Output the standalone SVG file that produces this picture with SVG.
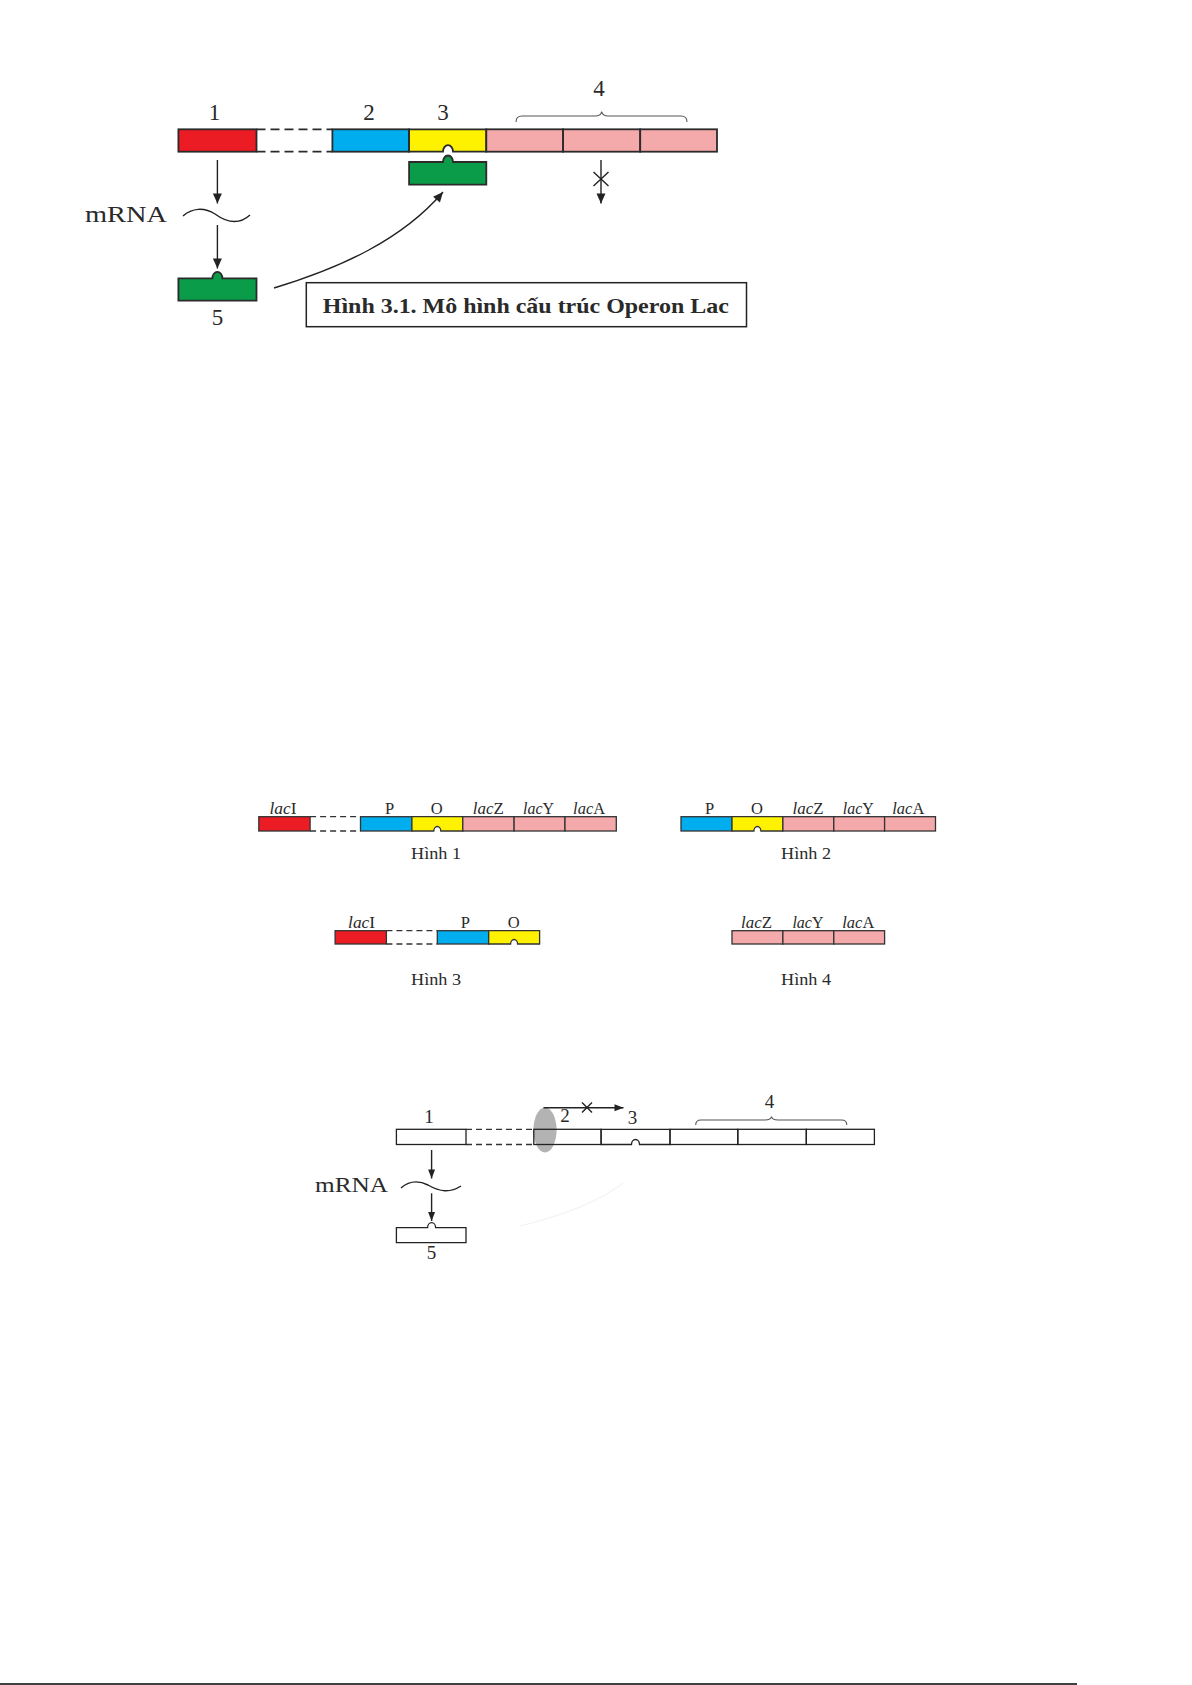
<svg xmlns="http://www.w3.org/2000/svg" width="1192" height="1685" viewBox="0 0 1192 1685">
<defs>
<marker id="ah" markerUnits="userSpaceOnUse" markerWidth="12" markerHeight="12" viewBox="0 0 12 12" refX="11" refY="6" orient="auto">
<path d="M1,1.5 L11,6 L1,10.5 Z" fill="#222"/>
</marker>
<marker id="ahs" markerUnits="userSpaceOnUse" markerWidth="10" markerHeight="10" viewBox="0 0 10 10" refX="9.5" refY="5" orient="auto">
<path d="M0.5,1.5 L9.5,5 L0.5,8.5 Z" fill="#222"/>
</marker>
</defs>
<style>
.g{stroke:#2b2b2b;stroke-width:1.8}
.gs{stroke:#333;stroke-width:1.3}
.gb{stroke:#222;stroke-width:1.3;fill:none}
.red{fill:#ec1c24}
.blue{fill:#00aeef}
.yel{fill:#fff200}
.pink{fill:#f4a9ab}
.green{fill:#0a9c48}
.dash{stroke:#2b2b2b;stroke-width:1.8;stroke-dasharray:9 5;fill:none}
.dashs{stroke:#333;stroke-width:1.3;stroke-dasharray:6 4;fill:none}
.ln{stroke:#222;stroke-width:1.4;fill:none}
.brace{stroke:#555;stroke-width:1.1;fill:none}
.t{font-family:"Liberation Serif","Times New Roman",serif;fill:#2a2a2a}
.num{font-size:23px;text-anchor:middle}
.lab{font-size:16.5px;text-anchor:middle}
.it{font-style:italic}
.cap{font-size:17px;text-anchor:middle}
</style>
<rect width="1192" height="1685" fill="#fff"/>

<!-- ============ Top diagram ============ -->
<g id="top-connectors">
<line class="dash" x1="256.5" y1="129.3" x2="332.4" y2="129.3"/>
<line class="dash" x1="256.5" y1="151.7" x2="332.4" y2="151.7"/>
<line class="ln" x1="217.4" y1="160" x2="217.4" y2="203.5" marker-end="url(#ah)"/>
<line class="ln" x1="217.4" y1="225" x2="217.4" y2="268.5" marker-end="url(#ah)"/>
<path class="ln" d="M274,288 C340,268 402,240 443,192" marker-end="url(#ah)"/>
<line class="ln" x1="601" y1="160" x2="601" y2="203.5" marker-end="url(#ah)"/>
<path class="ln" d="M593.5,172 L608.5,186 M608.5,172 L593.5,186"/>
<path class="ln" d="M183,216 C192,208 204,207 215,214 C226,222 238,226 250,215"/>
<path class="brace" d="M516,122 Q516,116 522,116 H595 Q601,116 601.7,111.5 Q602.5,116 608,116 H681 Q687,116 687,122"/>
</g>
<g id="t-gene1"><rect class="g red" x="178.4" y="129.3" width="78.1" height="22.4"/><text class="t num" x="214.4" y="119.5">1</text></g>
<g id="t-gene2"><rect class="g blue" x="332.4" y="129.3" width="76.7" height="22.4"/><text class="t num" x="369" y="119.5">2</text></g>
<g id="t-gene3"><path class="g yel" d="M409.1,129.3 H486.3 V151.7 H453 A5,6.5 0 0 0 443,151.7 H409.1 Z"/><text class="t num" x="443" y="119.5">3</text></g>
<g id="t-gene4">
<rect class="g pink" x="486.3" y="129.3" width="76.8" height="22.4"/>
<rect class="g pink" x="563.1" y="129.3" width="77.1" height="22.4"/>
<rect class="g pink" x="640.2" y="129.3" width="76.8" height="22.4"/>
<text class="t num" x="599" y="96">4</text>
</g>
<g id="t-repressor-bound"><path class="g green" d="M409.1,184.7 V162 H443 A5,6.5 0 0 1 453,162 H486.3 V184.7 Z"/></g>
<g id="t-mrna"><text class="t" x="85" y="222" font-size="23" textLength="82" lengthAdjust="spacingAndGlyphs">mRNA</text></g>
<g id="t-repressor"><path class="g green" d="M178.4,300.7 V278.3 H212.4 A5,6.5 0 0 1 222.4,278.3 H256.5 V300.7 Z"/><text class="t num" x="217.4" y="325">5</text></g>
<g id="t-caption">
<rect x="306.3" y="282.7" width="440.2" height="44" fill="#fff" stroke="#222" stroke-width="1.5"/>
<text class="t" x="322.8" y="313.3" font-size="21" font-weight="bold" fill="#111" textLength="406" lengthAdjust="spacingAndGlyphs">Hình 3.1. Mô hình cấu trúc Operon Lac</text>
</g>

<!-- ============ Hình 1 ============ -->
<g id="h1">
<rect class="gs red" x="258.8" y="816.7" width="51.3" height="14.3"/>
<line class="dashs" x1="310.1" y1="816.7" x2="360.5" y2="816.7"/>
<line class="dashs" x1="310.1" y1="831" x2="360.5" y2="831"/>
<rect class="gs blue" x="360.5" y="816.7" width="51.4" height="14.3"/>
<path class="gs yel" d="M411.9,816.7 H462.8 V831 H440.8 A3.5,4.5 0 0 0 433.8,831 H411.9 Z"/>
<rect class="gs pink" x="462.8" y="816.7" width="51.3" height="14.3"/>
<rect class="gs pink" x="514.1" y="816.7" width="50.9" height="14.3"/>
<rect class="gs pink" x="565" y="816.7" width="51.3" height="14.3"/>
<text class="t lab" x="283" y="814" textLength="27" lengthAdjust="spacingAndGlyphs"><tspan class="it">lac</tspan>I</text>
<text class="t lab" x="389.6" y="814">P</text>
<text class="t lab" x="436.8" y="814">O</text>
<text class="t lab" x="488.3" y="814" textLength="31" lengthAdjust="spacingAndGlyphs"><tspan class="it">lac</tspan>Z</text>
<text class="t lab" x="538.5" y="814" textLength="31" lengthAdjust="spacingAndGlyphs"><tspan class="it">lac</tspan>Y</text>
<text class="t lab" x="589.1" y="814" textLength="32" lengthAdjust="spacingAndGlyphs"><tspan class="it">lac</tspan>A</text>
<text class="t cap" x="436" y="858.5" textLength="50" lengthAdjust="spacingAndGlyphs">Hình 1</text>
</g>

<!-- ============ Hình 2 ============ -->
<g id="h2">
<rect class="gs blue" x="681" y="816.7" width="51" height="14.3"/>
<path class="gs yel" d="M732,816.7 H782.9 V831 H760.9 A3.5,4.5 0 0 0 753.9,831 H732 Z"/>
<rect class="gs pink" x="782.9" y="816.7" width="50.9" height="14.3"/>
<rect class="gs pink" x="833.8" y="816.7" width="50.8" height="14.3"/>
<rect class="gs pink" x="884.6" y="816.7" width="50.9" height="14.3"/>
<text class="t lab" x="709.5" y="814">P</text>
<text class="t lab" x="757" y="814">O</text>
<text class="t lab" x="808" y="814" textLength="31" lengthAdjust="spacingAndGlyphs"><tspan class="it">lac</tspan>Z</text>
<text class="t lab" x="858.3" y="814" textLength="31" lengthAdjust="spacingAndGlyphs"><tspan class="it">lac</tspan>Y</text>
<text class="t lab" x="908.3" y="814" textLength="32" lengthAdjust="spacingAndGlyphs"><tspan class="it">lac</tspan>A</text>
<text class="t cap" x="806" y="858.5" textLength="50" lengthAdjust="spacingAndGlyphs">Hình 2</text>
</g>

<!-- ============ Hình 3 ============ -->
<g id="h3">
<rect class="gs red" x="335.1" y="930.7" width="51.3" height="13.3"/>
<line class="dashs" x1="386.4" y1="930.7" x2="437.3" y2="930.7"/>
<line class="dashs" x1="386.4" y1="944" x2="437.3" y2="944"/>
<rect class="gs blue" x="437.3" y="930.7" width="51.4" height="13.3"/>
<path class="gs yel" d="M488.7,930.7 H539.6 V944 H517.6 A3.5,4.5 0 0 0 510.6,944 H488.7 Z"/>
<text class="t lab" x="361.6" y="928" textLength="27" lengthAdjust="spacingAndGlyphs"><tspan class="it">lac</tspan>I</text>
<text class="t lab" x="465.4" y="928">P</text>
<text class="t lab" x="513.7" y="928">O</text>
<text class="t cap" x="436" y="985" textLength="50" lengthAdjust="spacingAndGlyphs">Hình 3</text>
</g>

<!-- ============ Hình 4 ============ -->
<g id="h4">
<rect class="gs pink" x="732" y="930.7" width="50.9" height="13.3"/>
<rect class="gs pink" x="782.9" y="930.7" width="50.9" height="13.3"/>
<rect class="gs pink" x="833.8" y="930.7" width="50.8" height="13.3"/>
<text class="t lab" x="756.5" y="928" textLength="31" lengthAdjust="spacingAndGlyphs"><tspan class="it">lac</tspan>Z</text>
<text class="t lab" x="807.9" y="928" textLength="31" lengthAdjust="spacingAndGlyphs"><tspan class="it">lac</tspan>Y</text>
<text class="t lab" x="858.3" y="928" textLength="32" lengthAdjust="spacingAndGlyphs"><tspan class="it">lac</tspan>A</text>
<text class="t cap" x="806" y="985" textLength="50" lengthAdjust="spacingAndGlyphs">Hình 4</text>
</g>

<!-- ============ Bottom diagram ============ -->
<g id="b-polymerase"><ellipse cx="545" cy="1130" rx="11.6" ry="22.5" fill="#b3b3b3"/></g>
<g id="b-connectors">
<path d="M520,1226 C560,1216 598,1203 623,1183" stroke="#f3f3f3" stroke-width="1.2" fill="none"/>
<line class="dashs" x1="466" y1="1129.3" x2="533.8" y2="1129.3"/>
<line class="dashs" x1="466" y1="1144.5" x2="533.8" y2="1144.5"/>
<line class="ln" x1="543.5" y1="1107.7" x2="623.5" y2="1107.7" stroke-width="1.2" marker-end="url(#ahs)"/>
<path class="ln" stroke-width="1.2" d="M582,1102.5 L592,1112.5 M592,1102.5 L582,1112.5"/>
<line class="ln" x1="431.6" y1="1150" x2="431.6" y2="1178.5" stroke-width="1.2" marker-end="url(#ahs)"/>
<line class="ln" x1="431.6" y1="1193.3" x2="431.6" y2="1221" stroke-width="1.2" marker-end="url(#ahs)"/>
<path class="ln" stroke-width="1.2" d="M401,1188 C409,1181 418,1180 428,1185 C440,1192 450,1193 461,1186"/>
<path class="brace" d="M695.7,1125 Q695.7,1120 701,1120 H765 Q771,1120 771.5,1116.5 Q772,1120 778,1120 H841.5 Q846.8,1120 846.8,1125"/>
</g>
<g id="b-gene1"><rect class="gb" x="396.4" y="1129.3" width="69.6" height="15.2"/><text class="t" x="428.9" y="1123" font-size="19" text-anchor="middle">1</text></g>
<g id="b-gene2"><rect class="gb" x="533.8" y="1129.3" width="67.3" height="15.2"/><text class="t" x="565" y="1122" font-size="19" text-anchor="middle">2</text></g>
<g id="b-gene3"><path class="gb" d="M601.1,1129.3 H670 V1144.5 H639.5 A4,5 0 0 0 631.5,1144.5 H601.1 Z"/><text class="t" x="632.5" y="1124" font-size="19" text-anchor="middle">3</text></g>
<g id="b-gene4">
<rect class="gb" x="670" y="1129.3" width="67.8" height="15.2"/>
<rect class="gb" x="737.8" y="1129.3" width="68.5" height="15.2"/>
<rect class="gb" x="806.3" y="1129.3" width="68.1" height="15.2"/>
<text class="t" x="769.5" y="1108" font-size="19" text-anchor="middle">4</text>
</g>
<g id="b-mrna"><text class="t" x="315" y="1191.7" font-size="20" textLength="73" lengthAdjust="spacingAndGlyphs">mRNA</text></g>
<g id="b-repressor"><path class="gb" d="M396.4,1242.7 V1227.7 H427.6 A4,5 0 0 1 435.6,1227.7 H466 V1242.7 Z"/><text class="t" x="431.6" y="1259" font-size="19" text-anchor="middle">5</text></g>

<line x1="0" y1="1684" x2="1077" y2="1684" stroke="#000" stroke-width="1.6"/>
</svg>
